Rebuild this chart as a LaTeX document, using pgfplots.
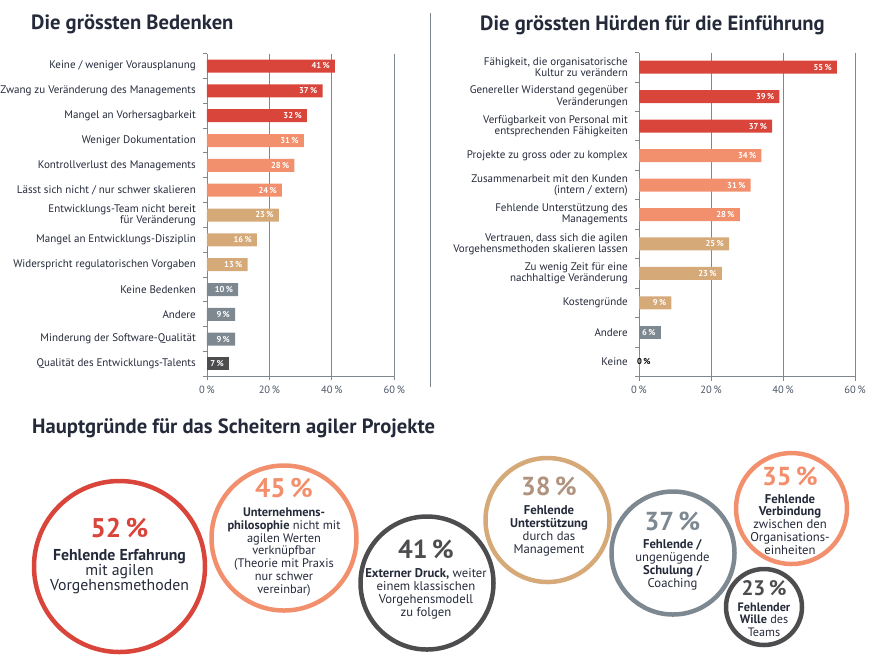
\documentclass[border=0pt]{standalone}
\usepackage{pgfplots}
\pgfplotsset{compat=1.18}
\usepackage{fontspec}
\setmainfont{PT Sans}
\definecolor{cred}{HTML}{D9453A}
\definecolor{csal}{HTML}{F2906D}
\definecolor{ctan}{HTML}{D6A979}
\definecolor{cgry}{HTML}{7D8891}
\definecolor{cdk}{HTML}{4D4D4F}
\definecolor{axgrey}{HTML}{7F8890}
\definecolor{navy}{HTML}{252A3A}
\definecolor{tickc}{HTML}{4A5566}
\definecolor{tnum}{HTML}{B0937F}
\pgfplotsset{
  /pgf/number format/assume math mode=true,
  barax/.style={
    xbar, scale only axis, xmin=0, xmax=60, y dir=reverse,
    axis x line*=bottom, axis y line*=left,
    axis line style={draw=axgrey, line width=0.9pt, -},
    xtick={0,20,40,60}, xticklabels={0\,\%,20\,\%,40\,\%,60\,\%},
    xmajorgrids, major grid style={draw=axgrey, line width=0.9pt},
    major tick length=0pt, minor tick length=4pt, tick align=outside,
    minor tick style={draw=axgrey, line width=0.9pt},
    minor xtick={0,20,40,60},
    xticklabel style={anchor=base, yshift=-17pt, text=tickc, font=\fontsize{10.5}{12}\selectfont},
    yticklabel style={anchor=east, align=right, inner sep=0pt, xshift=-11pt, text=navy, font=\fontsize{11}{11.2}\selectfont},
    ytick=data,
  },
  bp/.style={bar shift=0pt, bar width=13pt, draw=none, fill=#1, point meta=x,
    nodes near coords={\pgfmathprintnumber{\pgfplotspointmeta}\,\%},
    nodes near coords style={anchor=east, text=white, inner sep=0pt, xshift=-5pt,
      font=\bfseries\fontsize{8.5}{9}\selectfont}},
}
\begin{document}
\begin{tikzpicture}
\path[use as bounding box] (0,0) rectangle (870pt,-659pt);
% titles
\node[anchor=base west, inner sep=0pt, text=navy, font=\bfseries\fontsize{20.6}{23}\selectfont] at (31pt,-29pt) {Die grössten Bedenken};
\node[anchor=base west, inner sep=0pt, text=navy, font=\bfseries\fontsize{20.6}{23}\selectfont] at (480pt,-30pt) {Die grössten Hürden für die Einführung};
\node[anchor=base west, inner sep=0pt, text=navy, font=\bfseries\fontsize{20.6}{23}\selectfont] at (32pt,-433pt) {Hauptgründe für das Scheitern agiler Projekte};
\draw[axgrey, line width=1pt] (430pt,-13pt) -- (430pt,-387pt);

% left chart
\begin{axis}[barax, at={(207pt,-376.4pt)}, anchor=south west,
  width=187.3pt, height=322.8pt, ymin=-0.5, ymax=12.5,
  ytick={0,...,12}, minor ytick={-0.5,0.5,...,12.5},
  yticklabels={{Keine / weniger Vorausplanung},{Zwang zu Veränderung des Managements},{Mangel an Vorhersagbarkeit},{Weniger Dokumentation},{Kontrollverlust des Managements},{Lässt sich nicht / nur schwer skalieren},{Entwicklungs-Team nicht bereit\\für Veränderung},{Mangel an Entwicklungs-Disziplin},{Widerspricht regulatorischen Vorgaben},{Keine Bedenken},{Andere},{Minderung der Software-Qualität},{Qualität des Entwicklungs-Talents}}]
\addplot[bp=cred] coordinates {(41,0) (37,1) (32,2)};
\addplot[bp=csal] coordinates {(31,3) (28,4) (24,5)};
\addplot[bp=ctan] coordinates {(23,6) (16,7) (13,8)};
\addplot[bp=cgry] coordinates {(10,9) (9,10) (9,11)};
\addplot[bp=cdk] coordinates {(7,12)};
\end{axis}

% right chart
\begin{axis}[barax, at={(639pt,-376.5pt)}, anchor=south west,
  width=216pt, height=324pt, ymin=-0.5, ymax=10.5,
  ytick={0,...,10}, minor ytick={-0.5,0.5,...,10.5},
  yticklabels={{Fähigkeit, die organisatorische\\Kultur zu verändern},{Genereller Widerstand gegenüber\\Veränderungen},{Verfügbarkeit von Personal mit\\entsprechenden Fähigkeiten},{Projekte zu gross oder zu komplex},{Zusammenarbeit mit den Kunden\\(intern / extern)},{Fehlende Unterstützung des\\Managements},{Vertrauen, dass sich die agilen\\Vorgehensmethoden skalieren lassen},{Zu wenig Zeit für eine\\nachhaltige Veränderung},{Kostengründe},{Andere},{Keine}}]
\addplot[bp=cred] coordinates {(55,0) (39,1) (37,2)};
\addplot[bp=csal] coordinates {(34,3) (31,4) (28,5)};
\addplot[bp=ctan] coordinates {(25,6) (23,7) (9,8)};
\addplot[bp=cgry] coordinates {(6,9)};
\addplot[bp=white, nodes near coords style={anchor=west, text=black, xshift=3pt}] coordinates {(0,10)};
\end{axis}

% circles
\begin{axis}[at={(0pt,0pt)}, anchor=north west, x=1pt, y=1pt,
  xmin=0, xmax=870, ymin=0, ymax=659, y dir=reverse, hide axis, clip=false]
\addplot[only marks, mark=o, mark size=85.5pt, mark options={line width=4.5pt, draw=cred}] coordinates {(119.5,566.5)};
\addplot[only marks, mark=o, mark size=72.5pt, mark options={line width=4.5pt, draw=csal}] coordinates {(284,538)};
\addplot[only marks, mark=o, mark size=66.5pt, mark options={line width=4.5pt, draw=cdk}] coordinates {(427,583)};
\addplot[only marks, mark=o, mark size=62pt, mark options={line width=4.5pt, draw=ctan}] coordinates {(547.5,520)};
\addplot[only marks, mark=o, mark size=61.5pt, mark options={line width=4.5pt, draw=cgry}] coordinates {(673,553)};
\addplot[only marks, mark=o, mark size=55.5pt, mark options={line width=4.5pt, draw=csal}] coordinates {(791.5,508.5)};
\addplot[only marks, mark=o, mark size=38pt, mark options={line width=4.5pt, draw=cdk}] coordinates {(764,607)};

\node[anchor=base, inner sep=0pt, text=cred, font=\bfseries\fontsize{27}{29}\selectfont] at (axis cs:119.5,537) {52\,\%};
\node[anchor=north, inner sep=0pt, align=center, text=navy, font=\fontsize{15.8}{15}\selectfont] at (axis cs:119.5,548.8) {\textbf{Fehlende Erfahrung}\\mit agilen\\Vorgehensmethoden};

\node[anchor=base, inner sep=0pt, text=csal, font=\bfseries\fontsize{27}{29}\selectfont] at (axis cs:284,497) {45\,\%};
\node[anchor=north, inner sep=0pt, align=center, text=navy, font=\fontsize{12.4}{12.7}\selectfont] at (axis cs:284,508) {\textbf{Unternehmens-}\\\textbf{philosophie} nicht mit\\agilen Werten\\verknüpfbar\\(Theorie mit Praxis\\nur schwer\\vereinbar)};

\node[anchor=base, inner sep=0pt, text=cdk, font=\bfseries\fontsize{26}{28}\selectfont] at (axis cs:426,558) {41\,\%};
\node[anchor=north, inner sep=0pt, align=center, text=navy, font=\fontsize{12.7}{13}\selectfont] at (axis cs:426,568) {\textbf{Externer Druck,} weiter\\einem klassischen\\Vorgehensmodell\\zu folgen};

\node[anchor=base, inner sep=0pt, text=tnum, font=\bfseries\fontsize{26}{28}\selectfont] at (axis cs:549,495) {38\,\%};
\node[anchor=north, inner sep=0pt, align=center, text=navy, font=\fontsize{12.7}{13}\selectfont] at (axis cs:549,505) {\textbf{Fehlende}\\\textbf{Unterstützung}\\durch das\\Management};

\node[anchor=base, inner sep=0pt, text=cgry, font=\bfseries\fontsize{26}{28}\selectfont] at (axis cs:672.5,530) {37\,\%};
\node[anchor=north, inner sep=0pt, align=center, text=navy, font=\fontsize{12.7}{13}\selectfont] at (axis cs:672.5,539) {\textbf{Fehlende /}\\ungenügende\\\textbf{Schulung /}\\Coaching};

\node[anchor=base, inner sep=0pt, text=csal, font=\bfseries\fontsize{26}{28}\selectfont] at (axis cs:790,485) {35\,\%};
\node[anchor=north, inner sep=0pt, align=center, text=navy, font=\fontsize{12.7}{12.8}\selectfont] at (axis cs:790,494) {\textbf{Fehlende}\\\textbf{Verbindung}\\zwischen den\\Organisations-\\einheiten};

\node[anchor=base, inner sep=0pt, text=cdk, font=\bfseries\fontsize{21}{23}\selectfont] at (axis cs:764,595) {23\,\%};
\node[anchor=north, inner sep=0pt, align=center, text=navy, font=\fontsize{12.2}{12.7}\selectfont] at (axis cs:764,602.5) {\textbf{Fehlender}\\\textbf{Wille} des\\Teams};
\end{axis}
\end{tikzpicture}
\end{document}
